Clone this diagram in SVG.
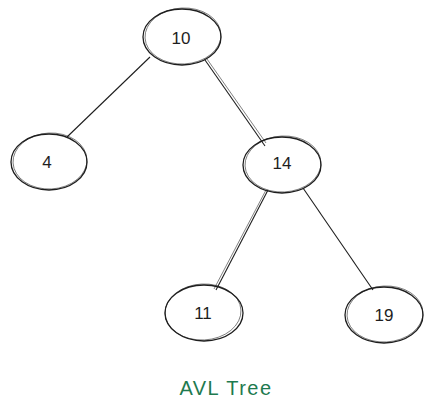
<svg xmlns="http://www.w3.org/2000/svg" width="432" height="414" viewBox="0 0 432 414">
<style>
.n{fill:none;stroke:#1e1e1e;stroke-width:1.3}
.n2{fill:none;stroke:#1e1e1e;stroke-width:0.7;opacity:0.8}
.e{stroke:#1e1e1e;stroke-width:1.1;fill:none}
.e2{stroke:#1e1e1e;stroke-width:0.7;fill:none;opacity:0.8}
.t{font-family:"Liberation Sans",Arial,sans-serif;font-size:17px;fill:#1e1e1e;text-anchor:middle;dominant-baseline:central}
.c{font-family:"Liberation Sans",Arial,sans-serif;font-size:20px;letter-spacing:1.5px;fill:#1e7a4f;text-anchor:middle;dominant-baseline:central}
</style>
<rect width="432" height="414" fill="#ffffff"/>
<g id="connectors">
<path class="e" d="M150 57 L67 137"/>
<path class="e" d="M205 60 L265 146"/>
<path class="e2" d="M207 59 L266 143"/>
<path class="e" d="M268 190 L216 290"/>
<path class="e2" d="M266 190 L214 289"/>
<path class="e" d="M303 188 L373 290"/>
</g>
<g id="node-10">
<ellipse class="n" cx="182" cy="37" rx="39" ry="28"/>
<ellipse class="n2" cx="183" cy="36" rx="38" ry="28" transform="rotate(-3 183 36)"/>
<text class="t" x="181" y="38">10</text>
</g>
<g id="node-4">
<ellipse class="n" cx="49" cy="162" rx="38" ry="28"/>
<ellipse class="n2" cx="50" cy="161" rx="37" ry="28" transform="rotate(-3 50 161)"/>
<text class="t" x="47" y="162">4</text>
</g>
<g id="node-14">
<ellipse class="n" cx="282" cy="165" rx="39" ry="28"/>
<ellipse class="n2" cx="283" cy="164" rx="38" ry="28" transform="rotate(-3 283 164)"/>
<text class="t" x="282" y="163">14</text>
</g>
<g id="node-11">
<ellipse class="n" cx="204" cy="313" rx="39" ry="28"/>
<ellipse class="n2" cx="203" cy="312" rx="38" ry="28" transform="rotate(-3 203 312)"/>
<text class="t" x="203" y="313">11</text>
</g>
<g id="node-19">
<ellipse class="n" cx="384" cy="315" rx="39" ry="28"/>
<ellipse class="n2" cx="385" cy="314" rx="38" ry="28" transform="rotate(-3 385 314)"/>
<text class="t" x="384" y="315">19</text>
</g>
<text class="c" x="226" y="388">AVL Tree</text>
</svg>
